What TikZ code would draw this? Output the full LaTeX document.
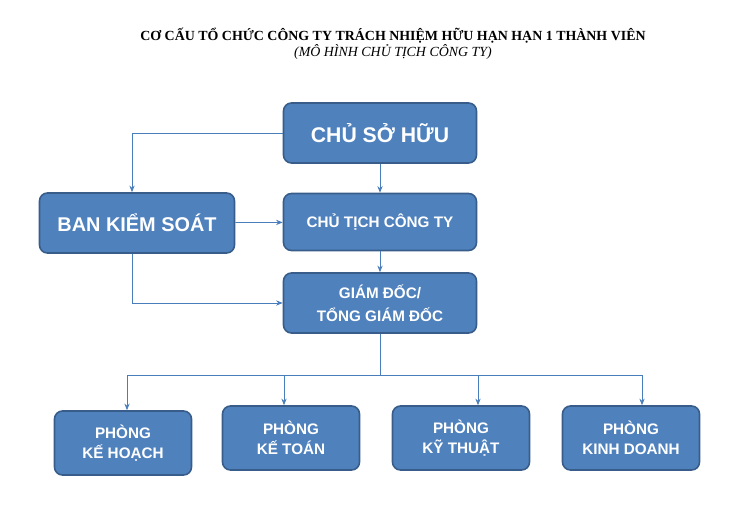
\documentclass[tikz,border=0pt]{standalone}
\usepackage{fontspec}
\setmainfont{Liberation Serif}
\newfontfamily\boxfont{Liberation Sans}
\usetikzlibrary{positioning, arrows.meta}
\definecolor{B1}{HTML}{4F81BD}
\definecolor{B2}{HTML}{385D8A}
\definecolor{L1}{HTML}{4A7EBB}
\begin{document}
\begin{tikzpicture}[x=0.0265cm, y=-0.0265cm,
	box/.style = {draw=B2, fill=B1, rounded corners=6pt, line width=1.2pt, text=white, align=center, font=\boxfont\bfseries, inner sep=0pt},
	bigbox/.style = {box, minimum width=193*0.0265cm, minimum height=60*0.0265cm},
	depbox/.style = {box, minimum width=137*0.0265cm, minimum height=64*0.0265cm, font=\boxfont\bfseries\fontsize{11.5}{15}\selectfont},
	link/.style = {draw=L1, semithick, -{Stealth[length=5pt, width=4pt]}}
]
  \useasboundingbox (0,0) rectangle (755,508);
  % Title
  \node (title) at (393,36) {\bfseries\fontsize{10.5}{12}\selectfont CƠ CẤU TỔ CHỨC CÔNG TY TRÁCH NHIỆM HỮU HẠN HẠN 1 THÀNH VIÊN};
  \node (sub) at (393,52) {\itshape\fontsize{10.5}{12}\selectfont (MÔ HÌNH CHỦ TỊCH CÔNG TY)};

  % Boxes
  \node[bigbox, font=\boxfont\bfseries\fontsize{16}{18}\selectfont] (owner) at (380,133) {CHỦ SỞ HỮU};
  \node[bigbox, minimum width=195*0.0265cm, font=\boxfont\bfseries\fontsize{15}{18}\selectfont] (control) at (137,223) {BAN KIỂM SOÁT};
  \node[bigbox, minimum height=57*0.0265cm, font=\boxfont\bfseries\fontsize{11.5}{14}\selectfont] (chair) at (380,222) {CHỦ TỊCH CÔNG TY};
  \node[bigbox, font=\boxfont\bfseries\fontsize{11.5}{17}\selectfont] (director) at (380,303) {GIÁM ĐỐC/\\TỔNG GIÁM ĐỐC};
  \node[depbox] (plan) at (123,443) {PHÒNG\\KẾ HOẠCH};
  \node[depbox] (acct) at (291,438) {PHÒNG\\KẾ TOÁN};
  \node[depbox] (tech) at (461,438) {PHÒNG\\KỸ THUẬT};
  \node[depbox] (sales) at (631,438) {PHÒNG\\KINH DOANH};

  % Connectors
  \coordinate (bus) at (380,375);
  \draw[link] (owner.west) -| (control.north -| 132,0);
  \draw[link] (owner) -- (chair);
  \draw[link] (control) -- (chair);
  \draw[link] (control.south -| 132,0) |- (director.west);
  \draw[link] (chair) -- (director);
  \draw[draw=L1, semithick] (director.south) -- (bus);
  \draw[draw=L1, semithick] (127,375) -- (642,375);
  \draw[link] (127,375) -- (plan.north -| 127,0);
  \draw[link] (284,375) -- (acct.north -| 284,0);
  \draw[link] (478,375) -- (tech.north -| 478,0);
  \draw[link] (642,375) -- (sales.north -| 642,0);
\end{tikzpicture}
\end{document}
